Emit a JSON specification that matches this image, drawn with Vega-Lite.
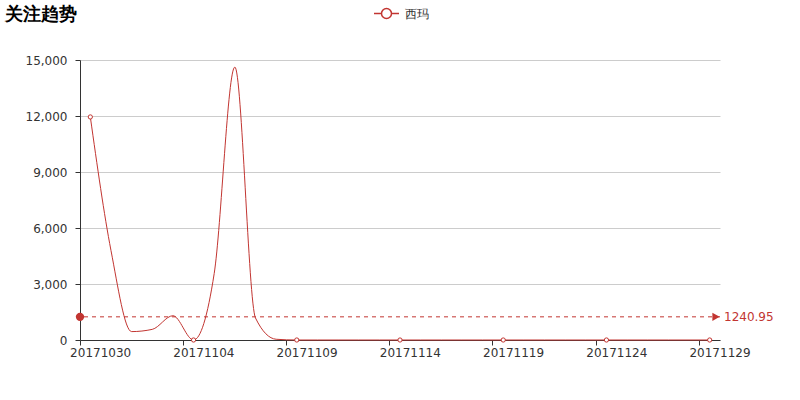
{
  "$schema": "https://vega.github.io/schema/vega-lite/v6.json",
  "autosize": {"type": "none"},
  "width": 640,
  "height": 280,
  "padding": {"left": 80, "top": 60, "right": 80, "bottom": 60},
  "background": "white",
  "title": {
    "text": "关注趋势",
    "anchor": "start",
    "frame": "group",
    "dx": -75,
    "offset": 0,
    "dy": 24,
    "fontSize": 18,
    "fontWeight": "bold",
    "color": "#000",
    "font": "DejaVu Sans"
  },
  "config": {
    "font": "DejaVu Sans",
    "view": {"stroke": null},
    "axis": {"labelFont": "DejaVu Sans", "labelFontSize": 12, "labelColor": "#333", "domainColor": "#333", "tickColor": "#333", "tickSize": 5}
  },
  "data": {
    "values": [
      {"date": "20171030", "value": 11949.45, "series": "西玛"},
      {"date": "20171031", "value": 4800, "series": "西玛"},
      {"date": "20171101", "value": 450, "series": "西玛"},
      {"date": "20171102", "value": 570, "series": "西玛"},
      {"date": "20171103", "value": 1300, "series": "西玛"},
      {"date": "20171104", "value": 0, "series": "西玛"},
      {"date": "20171105", "value": 3560, "series": "西玛"},
      {"date": "20171106", "value": 14620, "series": "西玛"},
      {"date": "20171107", "value": 1180, "series": "西玛"},
      {"date": "20171108", "value": 40, "series": "西玛"},
      {"date": "20171109", "value": 0, "series": "西玛"},
      {"date": "20171110", "value": 0, "series": "西玛"},
      {"date": "20171111", "value": 0, "series": "西玛"},
      {"date": "20171112", "value": 0, "series": "西玛"},
      {"date": "20171113", "value": 0, "series": "西玛"},
      {"date": "20171114", "value": 0, "series": "西玛"},
      {"date": "20171115", "value": 0, "series": "西玛"},
      {"date": "20171116", "value": 0, "series": "西玛"},
      {"date": "20171117", "value": 0, "series": "西玛"},
      {"date": "20171118", "value": 0, "series": "西玛"},
      {"date": "20171119", "value": 0, "series": "西玛"},
      {"date": "20171120", "value": 0, "series": "西玛"},
      {"date": "20171121", "value": 0, "series": "西玛"},
      {"date": "20171122", "value": 0, "series": "西玛"},
      {"date": "20171123", "value": 0, "series": "西玛"},
      {"date": "20171124", "value": 0, "series": "西玛"},
      {"date": "20171125", "value": 0, "series": "西玛"},
      {"date": "20171126", "value": 0, "series": "西玛"},
      {"date": "20171127", "value": 0, "series": "西玛"},
      {"date": "20171128", "value": 0, "series": "西玛"},
      {"date": "20171129", "value": 0, "series": "西玛"}
    ]
  },
  "encoding": {
    "x": {
      "field": "date",
      "type": "ordinal",
      "sort": null,
      "scale": {"type": "band", "paddingInner": 0, "paddingOuter": 0},
      "axis": {
        "title": null,
        "labelAngle": 0,
        "values": ["20171030", "20171104", "20171109", "20171114", "20171119", "20171124", "20171129"],
        "bandPosition": 0,
        "labelOffset": 10.32,
        "labelPadding": 2,
        "labelFontSize": 12
      }
    },
    "y": {
      "field": "value",
      "type": "quantitative",
      "scale": {"domain": [0, 15000], "nice": false},
      "axis": {
        "title": null,
        "values": [0, 3000, 6000, 9000, 12000, 15000],
        "format": ",d",
        "gridColor": "#ccc",
        "labelPadding": 8,
        "labelFontSize": 12
      }
    }
  },
  "layer": [
    {
      "mark": {"type": "line", "interpolate": "monotone", "strokeWidth": 1},
      "encoding": {
        "color": {
          "field": "series",
          "type": "nominal",
          "scale": {"range": ["#c23531"]},
          "legend": {
            "title": null,
            "orient": "none",
            "legendX": 293,
            "legendY": -60,
            "direction": "horizontal",
            "symbolType": "M-1,0L-0.4,0M0.4,0L1,0M-0.4,0A0.4,0.4,0,1,1,0.4,0A0.4,0.4,0,1,1,-0.4,0Z",
            "symbolSize": 625,
            "symbolStrokeWidth": 1.5,
            "symbolFillColor": "white",
            "labelFontSize": 12,
            "labelColor": "#333",
            "labelOffset": 5
          }
        }
      }
    },
    {
      "transform": [{"filter": {"field": "date", "oneOf": ["20171030", "20171104", "20171109", "20171114", "20171119", "20171124", "20171129"]}}],
      "mark": {"type": "point", "shape": "circle", "filled": true, "fill": "white", "stroke": "#c23531", "strokeWidth": 1, "size": 18, "opacity": 1}
    },
    {
      "transform": [{"aggregate": [{"op": "mean", "field": "value", "as": "avg"}]}],
      "layer": [
        {
          "mark": {"type": "rule", "color": "#c23531", "strokeDash": [4, 4], "strokeWidth": 1},
          "encoding": {"x": null, "y": {"field": "avg", "type": "quantitative"}}
        },
        {
          "mark": {"type": "point", "shape": "circle", "filled": true, "color": "#c23531", "size": 70, "opacity": 1},
          "encoding": {"x": {"datum": "20171030", "bandPosition": 0}, "y": {"field": "avg", "type": "quantitative"}}
        },
        {
          "mark": {"type": "point", "shape": "triangle-right", "filled": true, "color": "#c23531", "size": 70, "opacity": 1, "xOffset": -4},
          "encoding": {"x": {"datum": "20171129", "bandPosition": 1}, "y": {"field": "avg", "type": "quantitative"}}
        },
        {
          "mark": {"type": "text", "color": "#c23531", "align": "left", "baseline": "middle", "dx": 4, "fontSize": 12},
          "encoding": {
            "x": {"datum": "20171129", "bandPosition": 1},
            "y": {"field": "avg", "type": "quantitative"},
            "text": {"field": "avg", "type": "quantitative", "format": ".2f"}
          }
        }
      ]
    }
  ]
}
